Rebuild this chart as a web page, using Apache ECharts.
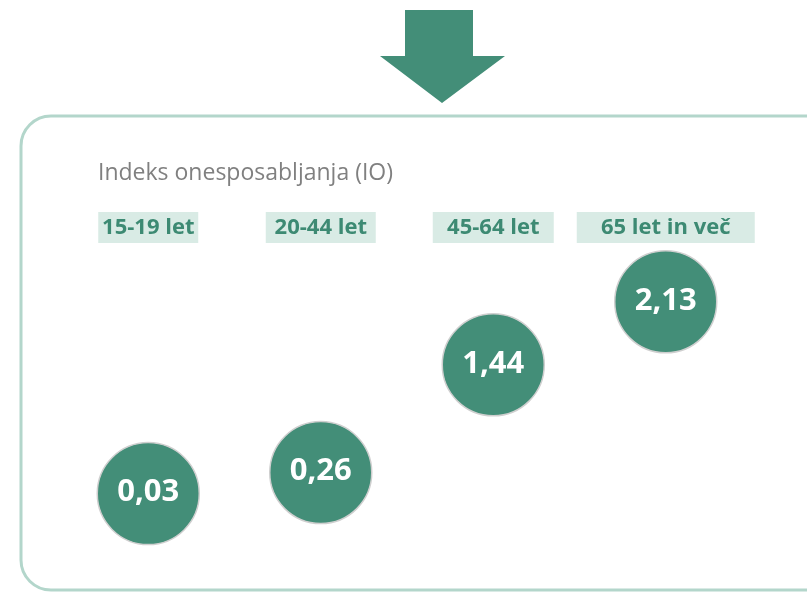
<!DOCTYPE html>
<html>
<head>
<meta charset="utf-8">
<script src="https://cdn.jsdelivr.net/npm/echarts@6/dist/echarts.min.js"></script>
<style>
  html, body { margin: 0; padding: 0; background: #fff; }
  #chart { width: 807px; height: 593px; }
</style>
</head>
<body>
<div id="chart"></div>
<script>
// podatki
var categories = ['15-19 let', '20-44 let', '45-64 let', '65 let in več'];
var values = [0.03, 0.26, 1.44, 2.13];
var titleText = 'Indeks onesposabljanja (IO)';

var green = '#438e78';
var labelWidths = [100, 110, 121, 178];

var rich = {};
categories.forEach(function (c, i) {
  rich['c' + i] = {
    width: labelWidths[i],
    height: 31,
    align: 'center',
    verticalAlign: 'middle',
    backgroundColor: '#d9ebe5',
    color: '#3d8a73',
    fontWeight: 'bold',
    fontSize: 22,
    fontFamily: 'Open Sans'
  };
});

var myChart = echarts.init(document.getElementById('chart'));
var options = {
  backgroundColor: '#fff',
  animation: false,
  title: {
    text: titleText,
    left: 93,
    top: 157,
    textStyle: { fontFamily: 'Open Sans', fontSize: 23, fontWeight: 'normal', color: '#808080' }
  },
  grid: { left: 62, width: 690, top: 268, bottom: 51 },
  xAxis: {
    type: 'category',
    position: 'top',
    data: categories,
    axisLine: { show: false },
    axisTick: { show: false },
    axisLabel: {
      margin: 25,
      interval: 0,
      formatter: function (v, i) { return '{c' + i + '|' + v + '}'; },
      rich: rich
    }
  },
  yAxis: {
    type: 'value',
    min: -0.5,
    max: 2.5,
    show: false,
    splitLine: { show: false }
  },
  graphic: [
    {
      type: 'rect',
      shape: { x: 21, y: 116, width: 830, height: 474, r: 30 },
      style: { fill: 'none', stroke: '#b3d6cb', lineWidth: 3 },
      z: 0
    },
    {
      type: 'polygon',
      shape: { points: [[405, 10], [473, 10], [473, 56], [505, 56], [442, 103], [380, 56], [405, 56]] },
      style: { fill: green },
      z: 1
    }
  ],
  series: [{
    type: 'scatter',
    data: values,
    symbolSize: 102,
    itemStyle: { color: green, opacity: 1, borderColor: '#cfcfcf', borderWidth: 1.5 },
    label: {
      show: true,
      position: 'inside',
      offset: [0, -1],
      formatter: function (p) { return p.value.toFixed(2).replace('.', ','); },
      color: '#fff',
      fontFamily: 'Open Sans',
      fontWeight: 'bold',
      fontSize: 31
    }
  }]
};
myChart.setOption(options);
</script>
</body>
</html>
